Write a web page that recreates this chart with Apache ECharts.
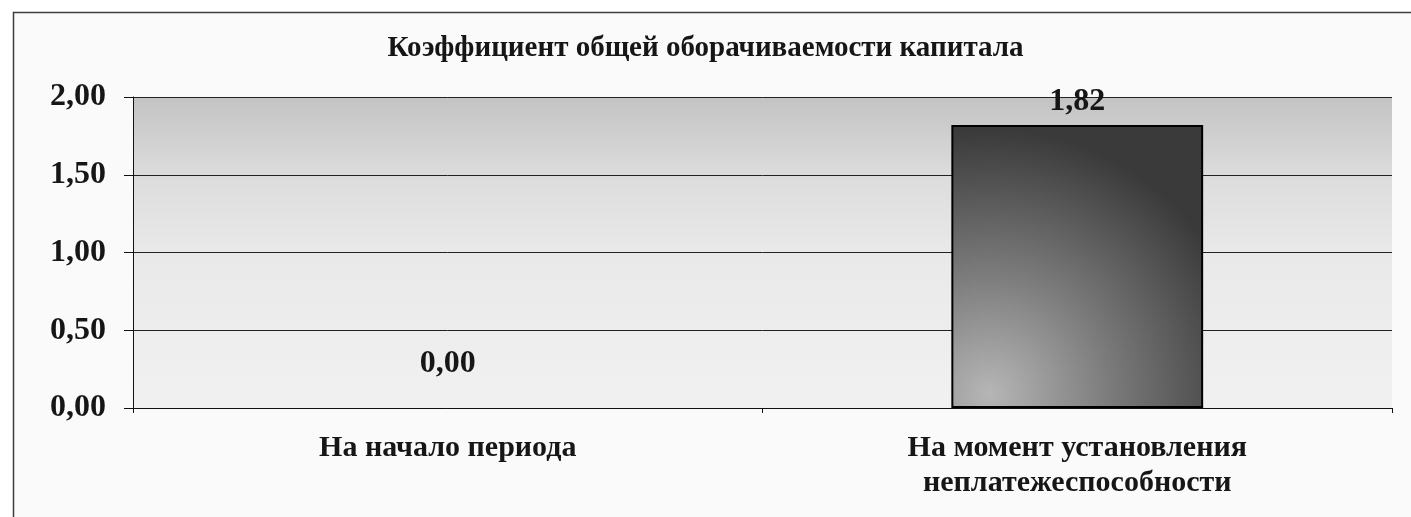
<!DOCTYPE html>
<html>
<head>
<meta charset="utf-8">
<title>Коэффициент общей оборачиваемости капитала</title>
<script src="https://cdn.jsdelivr.net/npm/echarts@6/dist/echarts.min.js"></script>
<style>
  html, body { margin: 0; padding: 0; background: #fff; }
  #chart { width: 1411px; height: 517px; }
</style>
</head>
<body>
<div id="chart"></div>
<script>
// данные графика
var categories = ['На начало периода', 'На момент установления\nнеплатежеспособности']
var values = [0.00, 1.82]
var yTicks = [0, 0.5, 1, 1.5, 2]

var FONT = '"Liberation Serif", "Times New Roman", serif'
var TEXT = '#161616'

function fmt(v) {
  return v.toFixed(2).replace('.', ',')
}

var chart = echarts.init(document.getElementById('chart'))

chart.setOption({
  animation: false,
  graphic: [{
    type: 'rect',
    silent: true,
    z: -10,
    shape: { x: 13.5, y: 12.5, width: 1500, height: 600 },
    style: { fill: '#fafafa', stroke: '#3c3c3c', lineWidth: 1.5 }
  }],
  title: {
    text: 'Коэффициент общей оборачиваемости капитала',
    left: 'center',
    top: 29,
    textStyle: { fontFamily: FONT, fontSize: 29, fontWeight: 'bold', color: TEXT }
  },
  grid: {
    left: 133,
    right: 19,
    top: 97,
    bottom: 109,
    show: true,
    borderWidth: 0,
    backgroundColor: {
      type: 'linear', x: 0, y: 0, x2: 0, y2: 1,
      colorStops: [
        { offset: 0, color: '#c3c3c3' },
        { offset: 0.25, color: '#dcdcdc' },
        { offset: 0.5, color: '#e9e9e9' },
        { offset: 1, color: '#f1f1f1' }
      ]
    }
  },
  xAxis: {
    type: 'category',
    data: categories,
    axisLine: { lineStyle: { color: '#111', width: 1 } },
    axisTick: { show: true, length: 5, lineStyle: { color: '#111' } },
    axisLabel: {
      margin: 23,
      fontFamily: FONT,
      fontSize: 30,
      fontWeight: 'bold',
      color: TEXT,
      lineHeight: 35,
      interval: 0
    }
  },
  yAxis: {
    type: 'value',
    min: yTicks[0],
    max: yTicks[yTicks.length - 1],
    interval: 0.5,
    axisLine: { show: true, lineStyle: { color: '#111', width: 1 } },
    axisTick: { show: true, length: 9, lineStyle: { color: '#111' } },
    splitLine: { show: true, lineStyle: { color: '#222', width: 1 } },
    axisLabel: {
      margin: 27,
      fontFamily: FONT,
      fontSize: 32,
      fontWeight: 'bold',
      color: TEXT,
      formatter: fmt
    }
  },
  series: [{
    type: 'bar',
    barWidth: '40%',
    data: values.map(function (v) {
      return {
        value: v,
        // нулевой столбец без рамки, подпись выше
        itemStyle: v === 0 ? { borderWidth: 0 } : {},
        label: v === 0 ? { distance: 28 } : { distance: 7 }
      }
    }),
    itemStyle: {
      borderColor: '#000',
      borderWidth: 2,
      color: {
        type: 'radial', x: 0.15, y: 0.95, r: 1.05,
        colorStops: [
          { offset: 0, color: '#b6b6b6' },
          { offset: 0.45, color: '#7c7c7c' },
          { offset: 1, color: '#3a3a3a' }
        ]
      }
    },
    label: {
      show: true,
      position: 'top',
      fontFamily: FONT,
      fontSize: 32,
      fontWeight: 'bold',
      color: TEXT,
      formatter: function (p) { return fmt(p.value) }
    }
  }]
})
</script>
</body>
</html>
